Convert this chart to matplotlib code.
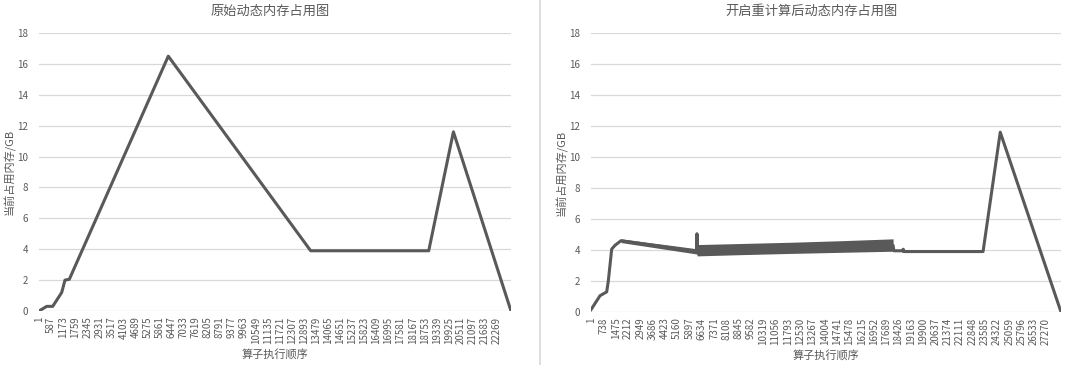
import numpy as np
import matplotlib
matplotlib.use("Agg")
import matplotlib.pyplot as plt
from matplotlib.lines import Line2D

plt.rcParams['font.family'] = ['Noto Sans CJK SC', 'DejaVu Sans']

# left chart: original dynamic memory (operator index, GB)
orig_idx = [1, 375, 667, 1105, 1265, 1474, 6287, 13210, 18950, 20150, 22950]
orig_mem = [0, 0.3, 0.3, 1.2, 2.0, 2.05, 16.5, 3.9, 3.9, 11.6, 0]
orig_ticks = list(range(1, 22270, 586))   # 1, 587, ... 22269

# right chart: with recomputation
reco_idx = [1, 540, 942, 1038, 1241, 1439, 1798, 6340, 6350, 6360, 18100,
            18150, 18700, 18710, 18730, 23490, 24520, 28160]
reco_mem = [0.15, 1.05, 1.3, 2.0, 4.06, 4.3, 4.6, 3.9, 5.05, 4.0, 4.3,
            3.95, 3.95, 4.05, 3.9, 3.9, 11.6, 0]
# envelope of the dense oscillating part
band_idx = [1800, 6340, 6360, 9000, 12000, 15000, 18100]
band_hi = [4.72, 4.08, 4.35, 4.42, 4.5, 4.6, 4.72]
band_lo = [4.48, 3.74, 3.62, 3.7, 3.78, 3.85, 3.92]
reco_ticks = list(range(1, 27271, 737))   # 1, 738, ... 27270

line_c = '#595959'
grid_c = '#d9d9d9'
text_c = '#595959'

fig = plt.figure(figsize=(10.82, 3.65), dpi=100)
W, H = 1082.0, 365.0


def setup(ax, ticks, xmax):
    ax.set_xlim(1, xmax)
    ax.set_ylim(0, 18)
    ax.set_yticks(range(0, 19, 2))
    ax.set_xticks(ticks)
    ax.set_xticklabels([str(t) for t in ticks], rotation=90, fontsize=7, color=text_c)
    ax.tick_params(axis='y', labelsize=7, colors=text_c, length=0, pad=8)
    ax.tick_params(axis='x', length=0, pad=4)
    ax.grid(axis='y', color=grid_c, lw=0.9)
    ax.set_axisbelow(True)
    for s in ax.spines.values():
        s.set_visible(False)
    ax.set_xlabel('算子执行顺序', fontsize=8, color=text_c, labelpad=4)
    ax.set_ylabel('当前占用内存/GB', fontsize=8, color=text_c, labelpad=1)


# left
ax1 = fig.add_axes([39 / W, 1 - 311 / H, (511 - 39) / W, (311 - 33) / H])
ax1.plot(orig_idx, orig_mem, color=line_c, lw=2.2, solid_joinstyle='round')
setup(ax1, orig_ticks, 22950)

# right
ax2 = fig.add_axes([591 / W, 1 - 312 / H, (1061 - 591) / W, (312 - 33) / H])
ax2.fill_between(band_idx, band_lo, band_hi, color=line_c, lw=0)
ax2.plot(reco_idx, reco_mem, color=line_c, lw=2.2, solid_joinstyle='round')
setup(ax2, reco_ticks, 28160)

fig.text(270 / W, 1 - 11 / H, '原始动态内存占用图', ha='center', va='center',
         fontsize=9.5, color=text_c)
fig.text(811 / W, 1 - 11 / H, '开启重计算后动态内存占用图', ha='center', va='center',
         fontsize=9.5, color=text_c)

# divider between the two charts
fig.add_artist(Line2D([540 / W, 540 / W], [0, 1], color=grid_c, lw=1.2,
                      transform=fig.transFigure))

fig.savefig('out.png', dpi=100, facecolor='white')
